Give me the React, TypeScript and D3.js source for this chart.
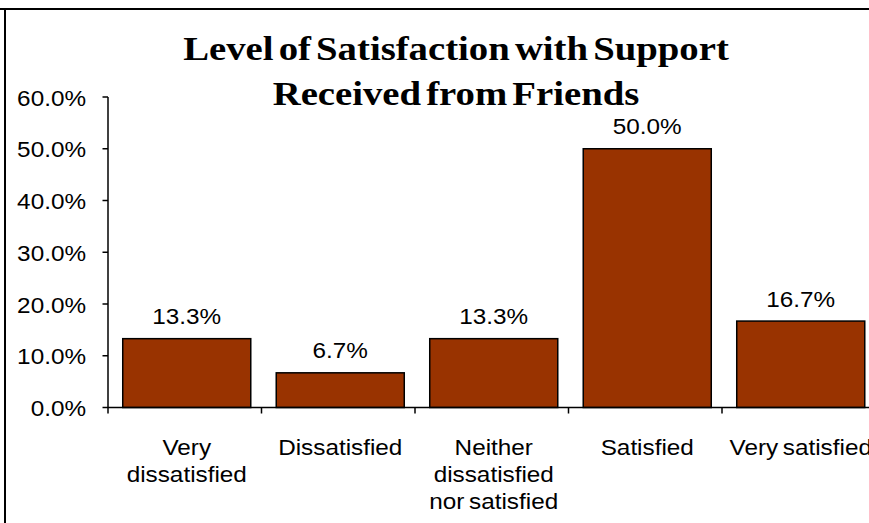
import React from "react";
import * as d3 from "d3";

const categories: string[][] = [
  ["Very", "dissatisfied"],
  ["Dissatisfied"],
  ["Neither", "dissatisfied", "nor satisfied"],
  ["Satisfied"],
  ["Very satisfied"],
];
const values: number[] = [13.3, 6.7, 13.3, 50.0, 16.7];
const yTicks: number[] = [0, 10, 20, 30, 40, 50, 60];
const titleLines: string[] = ["Level of Satisfaction with Support", "Received from Friends"];

const W = 869;
const H = 523;
const SANS = "'Liberation Sans', Arial, sans-serif";
const SERIF = "'Liberation Serif', 'Times New Roman', serif";
const SX = 1.08;

export default function App() {
  const keys = categories.map((_, i) => String(i));
  const x = d3.scaleBand<string>().domain(keys).range([108, 875.5]).padding(0);
  const xb = d3
    .scaleBand<string>()
    .domain(keys)
    .range([110, 877.5])
    .paddingInner(0.166)
    .paddingOuter(0.083);
  const y = d3.scaleLinear().domain([0, 60]).range([407.5, 97]);

  const txt = (
    key: string,
    tx: number,
    ty: number,
    s: string,
    anchor: string,
    size: number,
    family: string,
    sx: number,
    weight = "normal",
    ws = -2
  ) => (
    <text
      key={key}
      transform={`translate(${tx},${ty}) scale(${sx},1)`}
      textAnchor={anchor as any}
      fontSize={size}
      fontFamily={family}
      fontWeight={weight}
      wordSpacing={ws}
      fill="#000"
    >
      {s}
    </text>
  );

  return (
    <svg
      width={W}
      height={H}
      style={{ position: "fixed", left: 0, top: 0, background: "#fff", overflow: "hidden" }}
    >
      <rect x={0} y={0} width={W} height={H} fill="#fff" />
      {/* chart border */}
      <line x1={0} x2={W} y1={9} y2={9} stroke="#000" strokeWidth={2} />
      <line x1={5} x2={5} y1={8} y2={H} stroke="#000" strokeWidth={2} />

      {/* title */}
      {titleLines.map((t, i) =>
        txt("t" + i, 456, 60 + i * 44.5, t, "middle", 34, SERIF, 1.14, "bold", -4)
      )}

      {/* y axis */}
      <line x1={108} x2={108} y1={y(60)} y2={y(0)} stroke="#000" strokeWidth={1.5} />
      {yTicks.map((v) => (
        <g key={"y" + v}>
          <line x1={102.5} x2={108} y1={y(v)} y2={y(v)} stroke="#000" strokeWidth={1.5} />
          {txt("yl" + v, 86, y(v) + 8.5, `${v.toFixed(1)}%`, "end", 22.5, SANS, SX)}
        </g>
      ))}

      {/* bars */}
      {values.map((v, i) => (
        <rect
          key={"b" + i}
          x={xb(keys[i])!}
          y={y(v)}
          width={xb.bandwidth()}
          height={y(0) - y(v)}
          fill="#993300"
          stroke="#000"
          strokeWidth={1.5}
        />
      ))}

      {/* x axis */}
      <line x1={108} x2={875.5} y1={y(0)} y2={y(0)} stroke="#000" strokeWidth={1.5} />
      {keys.concat(["end"]).map((k, i) => {
        const px = i < keys.length ? x(k)! : x(keys[keys.length - 1])! + x.bandwidth();
        return <line key={"xt" + i} x1={px} x2={px} y1={y(0)} y2={y(0) + 6} stroke="#000" strokeWidth={1.5} />;
      })}

      {/* data labels */}
      {values.map((v, i) =>
        txt("dl" + i, xb(keys[i])! + xb.bandwidth() / 2, y(v) - 14.5, `${v.toFixed(1)}%`, "middle", 22.5, SANS, SX)
      )}

      {/* category labels */}
      {categories.map((lines, i) =>
        lines.map((l, j) =>
          txt("c" + i + "_" + j, xb(keys[i])! + xb.bandwidth() / 2, y(0) + 47.5 + j * 27, l, "middle", 22.5, SANS, SX)
        )
      )}
    </svg>
  );
}
